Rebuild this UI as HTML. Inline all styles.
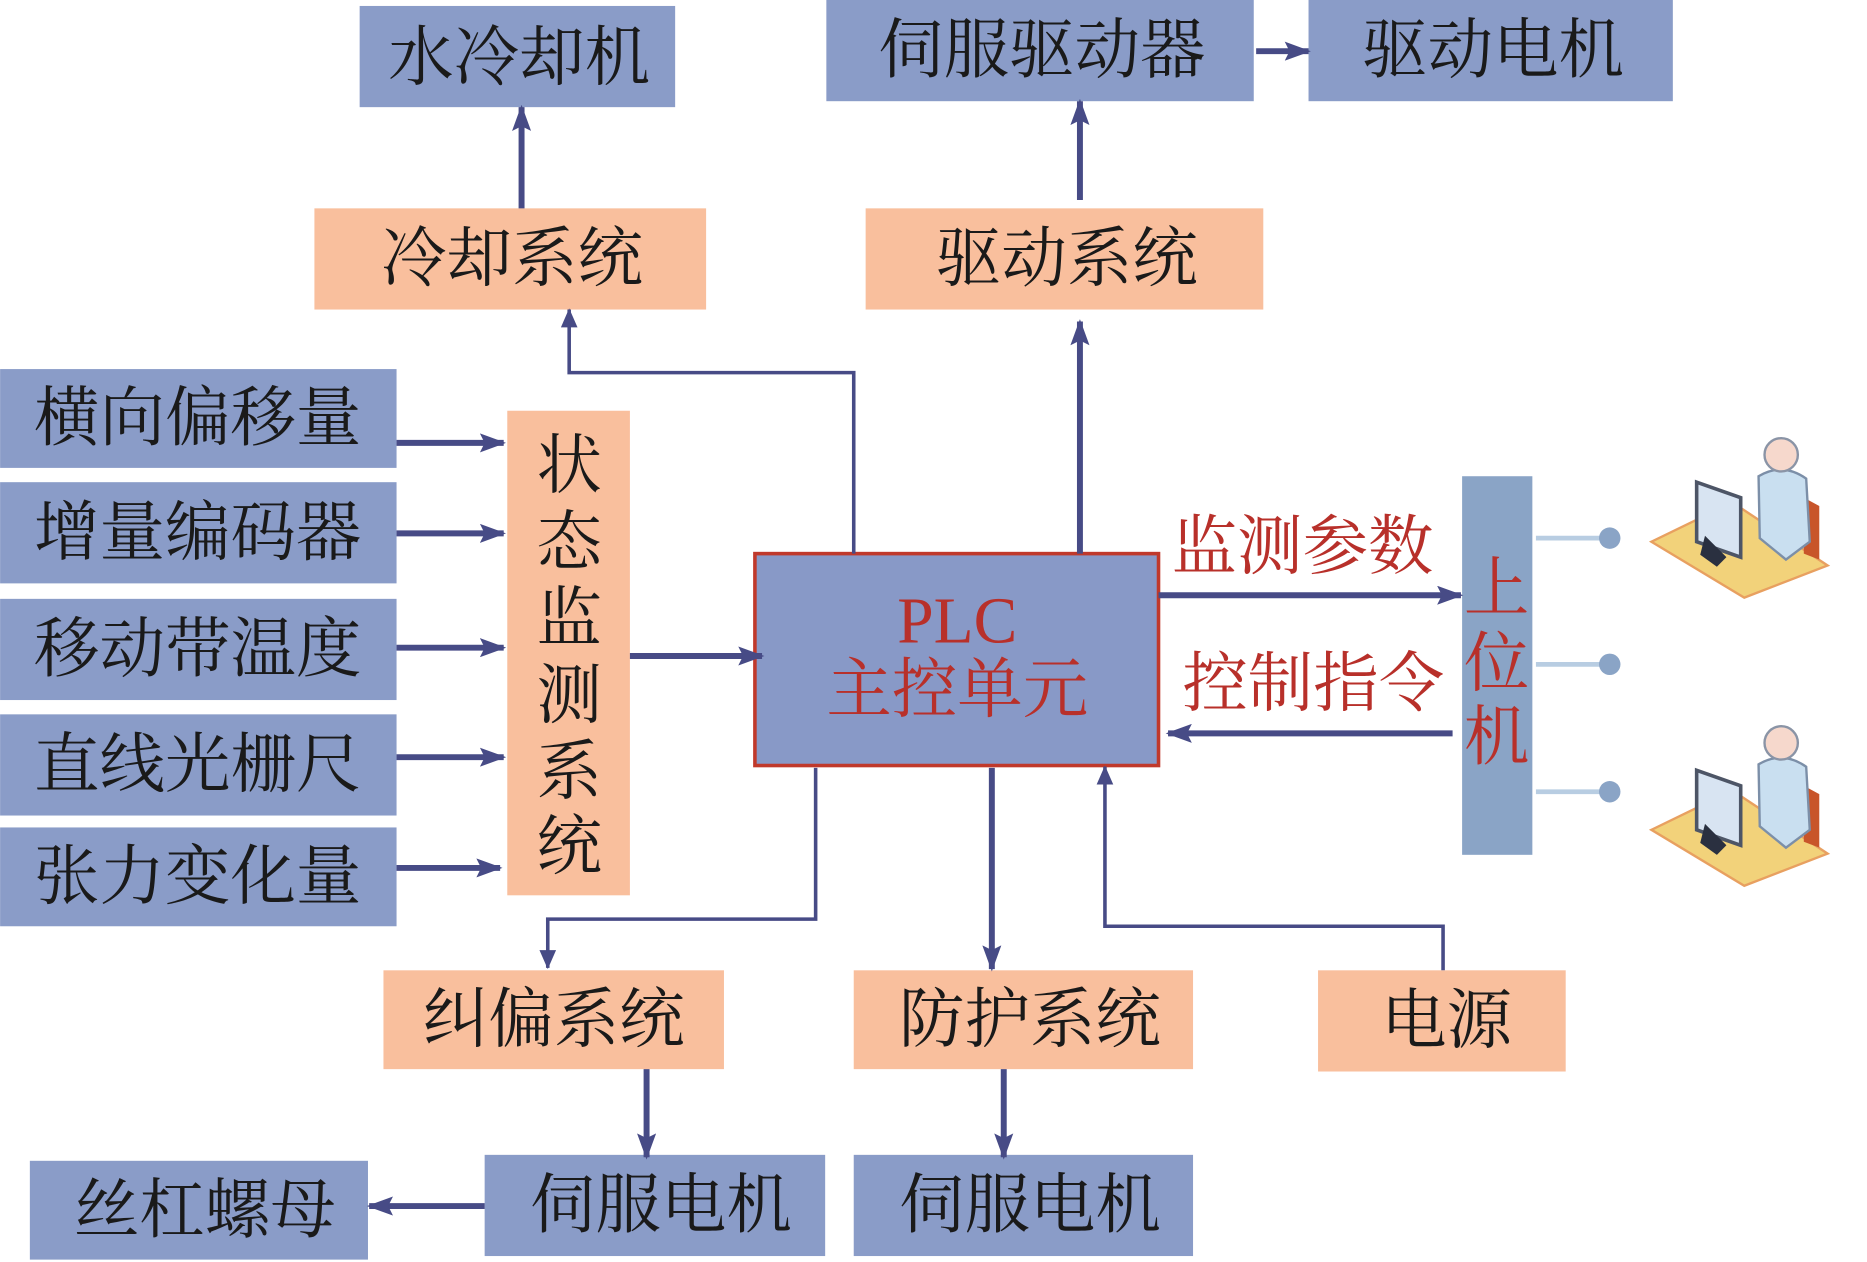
<!DOCTYPE html>
<html><head><meta charset="utf-8"><style>
html,body{margin:0;padding:0;background:#fff;}
svg{display:block}
text{font-family:"Liberation Serif","Noto Serif CJK SC","Noto Sans CJK SC",serif;}
</style></head><body>
<svg width="1867" height="1262" viewBox="0 0 1568 1060" xmlns="http://www.w3.org/2000/svg">
<defs>
<marker id="b" markerWidth="22" markerHeight="16" refX="20" refY="8" orient="auto" markerUnits="userSpaceOnUse"><path d="M0,0 L22,8 L0,16 L4,8 Z" fill="#474b86"/></marker>
<marker id="c" markerWidth="16" markerHeight="14" refX="15" refY="7" orient="auto" markerUnits="userSpaceOnUse"><path d="M0,0 L16,7 L0,14 Z" fill="#474b86"/></marker>
<g id="pc">
<path d="M1387,455 L1455,422 L1535,475 L1465,502 Z" fill="#f2d27a" stroke="#e8a060" stroke-width="2"/>
<path d="M1515,418 L1528,425 L1528,470 L1515,465 Z" fill="#c8552a"/>
<path d="M1477,400 Q1497,388 1517,402 L1520,455 L1500,470 L1478,452 Z" fill="#c9dff0" stroke="#7c8fa8" stroke-width="2"/>
<circle cx="1496" cy="382" r="14" fill="#f6d8cc" stroke="#8a94a6" stroke-width="2"/>
<path d="M1425,405 L1462,418 L1462,468 L1425,455 Z" fill="#d8e4f2" stroke="#4d5566" stroke-width="3"/>
<path d="M1432,450 L1450,468 L1442,476 L1428,466 Z" fill="#2a3040"/>
</g>
</defs>
<g font-size="55" fill="#1a1a1a" text-anchor="middle" dominant-baseline="central">
<g fill="#8a9cc8">
<rect x="302" y="5" width="265" height="85"/>
<rect x="694" y="0" width="359" height="85"/>
<rect x="1099" y="0" width="306" height="85"/>
<rect x="0" y="310" width="333" height="83"/>
<rect x="0" y="405" width="333" height="85"/>
<rect x="0" y="503" width="333" height="85"/>
<rect x="0" y="600" width="333" height="85"/>
<rect x="0" y="695" width="333" height="83"/>
<rect x="407" y="970" width="286" height="85"/>
<rect x="717" y="970" width="285" height="85"/>
<rect x="25" y="975" width="284" height="83"/>
</g>
<rect x="1228" y="400" width="59" height="318" fill="#8aa4c6"/>
<g fill="#f9bf9d">
<rect x="264" y="175" width="329" height="85"/>
<rect x="727" y="175" width="334" height="85"/>
<rect x="426" y="345" width="103" height="407"/>
<rect x="322" y="815" width="286" height="83"/>
<rect x="717" y="815" width="285" height="83"/>
<rect x="1107" y="815" width="208" height="85"/>
</g>
<rect x="634" y="465" width="339" height="178" fill="#8899c7" stroke="#c0392b" stroke-width="3"/>

<text x="436" y="49">水冷却机</text>
<text x="875" y="43">伺服驱动器</text>
<text x="1254" y="43">驱动电机</text>
<text x="430" y="218">冷却系统</text>
<text x="896" y="218">驱动系统</text>
<text x="166" y="352">横向偏移量</text>
<text x="166" y="448">增量编码器</text>
<text x="166" y="546">移动带温度</text>
<text x="166" y="643">直线光栅尺</text>
<text x="166" y="737">张力变化量</text>
<text x="478" y="392">状</text>
<text x="478" y="456">态</text>
<text x="478" y="520">监</text>
<text x="478" y="585">测</text>
<text x="478" y="649">系</text>
<text x="478" y="712">统</text>
<text x="465" y="857">纠偏系统</text>
<text x="865" y="857">防护系统</text>
<text x="1215" y="858">电源</text>
<text x="555" y="1013">伺服电机</text>
<text x="865" y="1013">伺服电机</text>
<text x="172" y="1017">丝杠螺母</text>
<g fill="#b8302a">
<text x="804" y="522">PLC</text>
<text x="804" y="580">主控单元</text>
<text x="1094" y="460">监测参数</text>
<text x="1103" y="575">控制指令</text>
<text x="1257" y="495">上</text>
<text x="1257" y="558">位</text>
<text x="1257" y="620">机</text>
</g>
</g>
<g stroke="#474b86" fill="none">
<g stroke-width="5" marker-end="url(#b)">
<line x1="1055" y1="43" x2="1099" y2="43"/>
<line x1="438" y1="175" x2="438" y2="90"/>
<line x1="907" y1="168" x2="907" y2="85"/>
<line x1="333" y1="372" x2="423" y2="372"/>
<line x1="333" y1="448" x2="423" y2="448"/>
<line x1="333" y1="544" x2="423" y2="544"/>
<line x1="333" y1="636" x2="423" y2="636"/>
<line x1="333" y1="729" x2="420" y2="729"/>
<line x1="529" y1="551" x2="640" y2="551"/>
<line x1="907" y1="465" x2="907" y2="270"/>
<line x1="973" y1="500" x2="1227" y2="500"/>
<line x1="1220" y1="616" x2="981" y2="616"/>
<line x1="833" y1="645" x2="833" y2="814"/>
<line x1="543" y1="898" x2="543" y2="972"/>
<line x1="843" y1="898" x2="843" y2="972"/>
<line x1="407" y1="1013" x2="310" y2="1013"/>
</g>
<g stroke-width="3" marker-end="url(#c)">
<polyline points="717,465 717,313 478,313 478,260"/>
<polyline points="685,645 685,772 460,772 460,813"/>
<polyline points="1212,815 1212,778 928,778 928,644"/>
</g>
</g>
<g stroke="#b8cde2" stroke-width="4">
<line x1="1290" y1="452" x2="1350" y2="452"/>
<line x1="1290" y1="558" x2="1350" y2="558"/>
<line x1="1290" y1="665" x2="1350" y2="665"/>
</g>
<g fill="#8aa4c6">
<circle cx="1352" cy="452" r="9"/>
<circle cx="1352" cy="558" r="9"/>
<circle cx="1352" cy="665" r="9"/>
</g>
<use href="#pc"/>
<use href="#pc" transform="translate(0,242)"/>
</svg>
</body></html>
